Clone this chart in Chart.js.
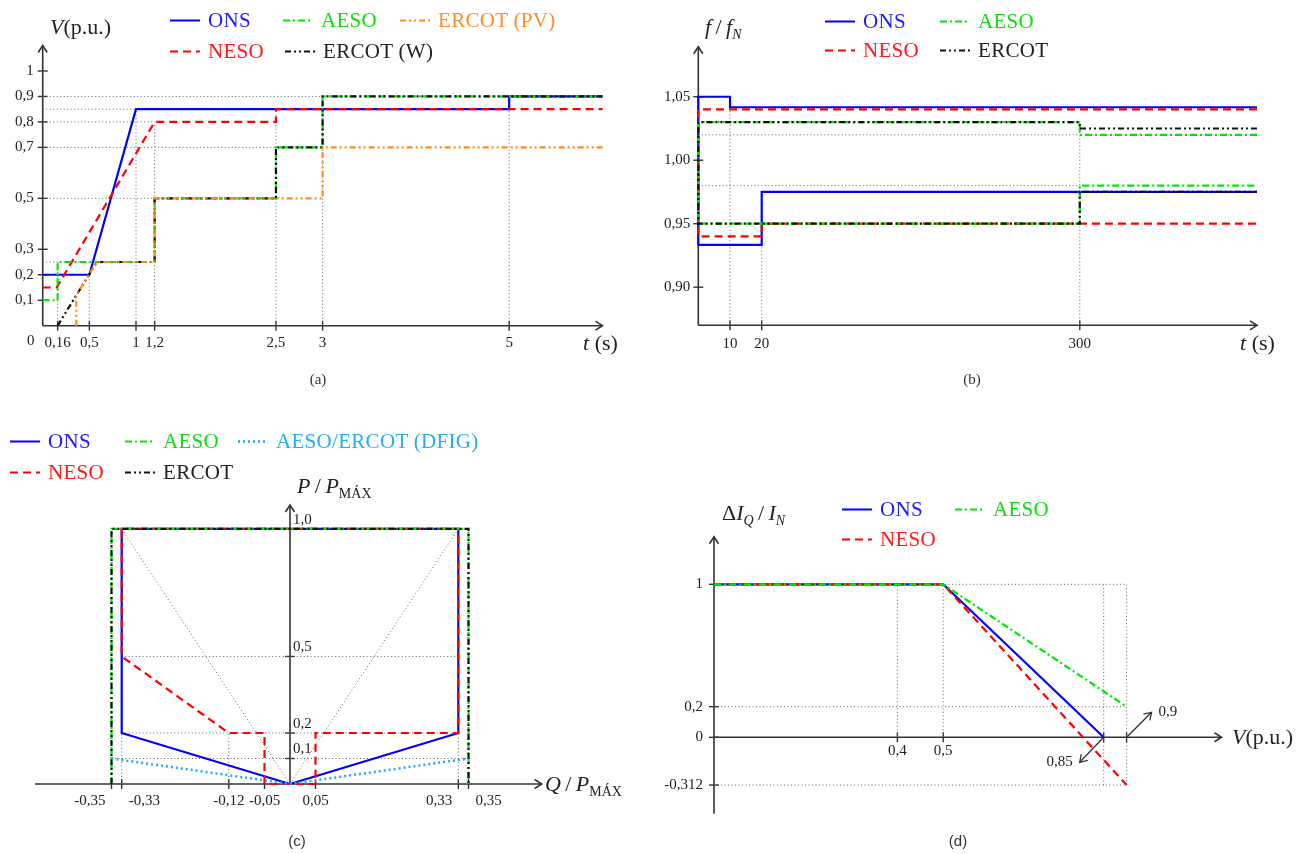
<!DOCTYPE html>
<html>
<head>
<meta charset="UTF-8">
<title>Requisitos de suportabilidade</title>
<script src="https://cdn.jsdelivr.net/npm/chart.js"></script>
<style>
  body { margin: 0; background: #fff; }
  #page { position: relative; width: 1308px; height: 854px; overflow: hidden; font-family: "Liberation Serif", serif; color: #222; }
  .box { position: absolute; }
  .lbl { position: absolute; font-size: 22px; white-space: nowrap; transform: translateY(-50%); line-height: 1; color: #222; }
  .lbl sub { font-size: 14px; }
  .cap { position: absolute; font-size: 15px; transform: translate(-50%, -50%); color: #333; }
  .leg { position: absolute; display: flex; align-items: center; transform: translateY(-50%); font-size: 21px; white-space: nowrap; line-height: 1; letter-spacing: 0.3px; }
  .leg svg { margin-right: 8px; }
</style>
</head>
<body>
<div id="page">
  <div class="lbl" style="left:50px;top:27px"><i>V</i>(p.u.)</div>
  <div class="lbl" style="left:583px;top:343px"><i>t</i> (s)</div>
  <div class="lbl" style="left:705px;top:29px"><i>f</i>&thinsp;/&thinsp;<i>f<sub>N</sub></i></div>
  <div class="lbl" style="left:1240px;top:343px"><i>t</i> (s)</div>
  <div class="lbl" style="left:297px;top:488px"><i>P</i>&thinsp;/&thinsp;<i>P</i><sub>MÁX</sub></div>
  <div class="lbl" style="left:545px;top:786px"><i>Q</i>&thinsp;/&thinsp;<i>P</i><sub>MÁX</sub></div>
  <div class="lbl" style="left:722px;top:515px">Δ<i>I<sub>Q</sub></i>&thinsp;/&thinsp;<i>I<sub>N</sub></i></div>
  <div class="lbl" style="left:1232px;top:737px"><i>V</i>(p.u.)</div>
  <div class="cap" style="left:318px;top:379px">(a)</div>
  <div class="cap" style="left:972px;top:379px">(b)</div>
  <div class="cap" style="left:297px;top:840px;font-family:'Liberation Sans',sans-serif">(c)</div>
  <div class="cap" style="left:958px;top:840px;font-family:'Liberation Sans',sans-serif">(d)</div>
</div>
<script>
// (a) tensão x tempo
const aOnsT = [0, 0.5, 1, 5, 5, 6];
const aOnsV = [0.2, 0.2, 0.85, 0.85, 0.9, 0.9];
const aNesoT = [0, 0.15, 1.2, 2.5, 2.5, 6];
const aNesoV = [0.15, 0.15, 0.8, 0.8, 0.85, 0.85];
const aAesoT = [0, 0.16, 0.16, 1.2, 1.2, 2.5, 2.5, 3, 3, 6];
const aAesoV = [0.1, 0.1, 0.25, 0.25, 0.5, 0.5, 0.7, 0.7, 0.9, 0.9];
const aErcotWT = [0.16, 0.58, 1.2, 1.2, 2.5, 2.5, 3, 3, 6];
const aErcotWV = [0, 0.25, 0.25, 0.5, 0.5, 0.7, 0.7, 0.9, 0.9];
const aErcotPvT = [0.36, 0.36, 0.58, 1.2, 1.2, 3, 3, 6];
const aErcotPvV = [0, 0.12, 0.25, 0.25, 0.5, 0.5, 0.7, 0.7];
const aTicksT = [0.16, 0.5, 1, 1.2, 2.5, 3, 5];
const aTickLabelsT = ['0,16', '0,5', '1', '1,2', '2,5', '3', '5'];
const aTicksV = [0.1, 0.2, 0.3, 0.5, 0.7, 0.8, 0.9, 1];
const aTickLabelsV = ['0,1', '0,2', '0,3', '0,5', '0,7', '0,8', '0,9', '1'];
const aGuides = [
  [[0, 0.9], [3, 0.9]], [[0, 0.85], [1, 0.85]], [[0, 0.8], [1.2, 0.8]],
  [[0, 0.7], [2.5, 0.7]], [[0, 0.5], [1.2, 0.5]], [[0, 0.25], [0.5, 0.25]],
  [[0.16, 0], [0.16, 0.25]], [[0.5, 0], [0.5, 0.2]], [[1, 0], [1, 0.85]],
  [[1.2, 0], [1.2, 0.8]], [[2.5, 0], [2.5, 0.85]], [[3, 0], [3, 0.9]], [[5, 0], [5, 0.9]]
];

// (b) frequência x tempo
const bOnsT = [456, 10, 10, 0, 0, 20, 20, 456];
const bOnsF = [1.0417, 1.0417, 1.05, 1.05, 0.9333, 0.9333, 0.975, 0.975];
const bNesoT = [456, 0, 0, 20, 20, 456];
const bNesoF = [1.04, 1.04, 0.94, 0.94, 0.95, 0.95];
const bAesoT = [456, 300, 300, 0, 0, 300, 300, 456];
const bAesoF = [1.02, 1.02, 1.03, 1.03, 0.95, 0.95, 0.98, 0.98];
const bErcotT = [456, 300, 300, 0, 0, 300, 300, 456];
const bErcotF = [1.025, 1.025, 1.03, 1.03, 0.95, 0.95, 0.975, 0.975];
const bTicksT = [10, 20, 300];
const bTickLabelsT = ['10', '20', '300'];
const bTicksF = [0.90, 0.95, 1.00, 1.05];
const bTickLabelsF = ['0,90', '0,95', '1,00', '1,05'];
const bGuides = [
  [[0, 1.02], [300, 1.02]], [[0, 0.98], [300, 0.98]],
  [[10, 0.87], [10, 1.0417]], [[20, 0.87], [20, 0.9333]], [[300, 0.87], [300, 1.03]]
];

// (c) curva de capabilidade P x Q
const cOnsQ = [0, -0.33, -0.33, 0.33, 0.33, 0];
const cOnsP = [0, 0.2, 1, 1, 0.2, 0];
const cNesoQ = [-0.05, -0.05, -0.12, -0.33, -0.33, 0.33, 0.33, 0.05, 0.05, -0.05];
const cNesoP = [0, 0.2, 0.2, 0.5, 1, 1, 0.2, 0.2, 0, 0];
const cAesoQ = [-0.35, -0.35, 0.35, 0.35];
const cAesoP = [0, 1, 1, 0];
const cErcotQ = [-0.35, -0.35, 0.35, 0.35];
const cErcotP = [0, 1, 1, 0];
const cDfigQ = [-0.35, 0, 0.35];
const cDfigP = [0.1, 0, 0.1];
const cTicksQ = [-0.35, -0.33, -0.12, -0.05, 0.05, 0.33, 0.35];
const cTickLabelsQ = ['-0,35', '-0,33', '-0,12', '-0,05', '0,05', '0,33', '0,35'];
const cTicksP = [0.1, 0.2, 0.5, 1.0];
const cTickLabelsP = ['0,1', '0,2', '0,5', '1,0'];
const cGuides = [
  [[-0.33, 0.5], [0.33, 0.5]], [[-0.33, 0.2], [0.33, 0.2]], [[-0.35, 0.1], [0.35, 0.1]],
  [[0, 0], [-0.33, 1]], [[0, 0], [0.33, 1]],
  [[-0.33, 0], [-0.33, 0.2]], [[-0.12, 0], [-0.12, 0.2]], [[0.33, 0], [0.33, 0.2]]
];

// (d) corrente reativa x tensão
const dOnsV = [0, 0.5, 0.85];
const dOnsI = [1, 1, 0];
const dNesoV = [0, 0.5, 0.9];
const dNesoI = [1, 1, -0.312];
const dAesoV = [0, 0.5, 0.9];
const dAesoI = [1, 1, 0.2];
const dTicksV = [0.4, 0.5, 0.85, 0.9];
const dTickLabelsV = ['0,4', '0,5', '', ''];
const dTicksI = [-0.312, 0, 0.2, 1];
const dTickLabelsI = ['-0,312', '0', '0,2', '1'];
const dGuides = [
  [[0, 1], [0.9, 1]], [[0, 0.2], [0.9, 0.2]], [[0, -0.312], [0.9, -0.312]],
  [[0.4, 0], [0.4, 1]], [[0.5, 0], [0.5, 1]], [[0.85, -0.312], [0.85, 1]], [[0.9, -0.312], [0.9, 1]]
];

const styles = {
  ONS:   {color: '#0000ff', dash: [], text: '#2020ff'},
  NESO:  {color: '#ff0000', dash: [8, 5], text: '#ff1a1a'},
  AESO:  {color: '#00e600', dash: [7, 3, 2, 3], text: '#10dd10'},
  ERCOT: {color: '#111111', dash: [6, 3, 2, 3, 2, 3], text: '#222222'},
  PV:    {color: '#ff8c1a', dash: [6, 3, 2, 3, 2, 3], text: '#ff8c2a'},
  DFIG:  {color: '#1eaaf0', dash: [2, 3], width: 2.5, text: '#25aef0'},
  guide: {color: '#666666', dash: [1, 2.5], width: 1}
};

// escala linear por trechos (eixo t do gráfico b)
class BrokenScale extends Chart.LinearScale {
  _frac(v) {
    const k = this.options.knots;
    for (let i = 1; i < k.length; i++) {
      if (v <= k[i][0] || i === k.length - 1) {
        const [v0, f0] = k[i - 1], [v1, f1] = k[i];
        return f0 + (v - v0) / (v1 - v0) * (f1 - f0);
      }
    }
  }
  getPixelForValue(v) { return this.getPixelForDecimal(this._frac(v)); }
  getValueForPixel(p) {
    const f = this.getDecimalForPixel(p), k = this.options.knots;
    for (let i = 1; i < k.length; i++) {
      if (f <= k[i][1] || i === k.length - 1) {
        const [v0, f0] = k[i - 1], [v1, f1] = k[i];
        return v0 + (f - f0) / (f1 - f0) * (v1 - v0);
      }
    }
  }
}
BrokenScale.id = 'broken';
Chart.register(BrokenScale);

function seg(ctx, x0, y0, x1, y1) {
  ctx.beginPath(); ctx.moveTo(x0, y0); ctx.lineTo(x1, y1); ctx.stroke();
}
function arrowHead(ctx, x, y, ux, uy) {
  const n = Math.hypot(ux, uy); ux /= n; uy /= n;
  const bx = x - ux * 7, by = y - uy * 7, nx = -uy, ny = ux;
  ctx.beginPath();
  ctx.moveTo(bx + nx * 4.5, by + ny * 4.5); ctx.lineTo(x, y); ctx.lineTo(bx - nx * 4.5, by - ny * 4.5);
  ctx.stroke();
}

// eixos no estilo LaTeX: setas, marcas cruzando o eixo e rótulos
const texAxes = {
  id: 'texAxes',
  beforeDatasetsDraw(chart, args, o) {
    const ctx = chart.ctx, xs = chart.scales.x, ys = chart.scales.y;
    const px = v => xs.getPixelForValue(v), py = v => ys.getPixelForValue(v);
    const ay = py(o.xAxisAt), ax = px(o.yAxisAt);
    ctx.save();
    ctx.setLineDash([]);
    ctx.strokeStyle = '#333';
    ctx.lineWidth = 1.6;
    seg(ctx, px(o.xSpan[0]), ay, px(o.xSpan[1]), ay);
    arrowHead(ctx, px(o.xSpan[1]), ay, 1, 0);
    seg(ctx, ax, py(o.ySpan[0]), ax, py(o.ySpan[1]));
    arrowHead(ctx, ax, py(o.ySpan[1]), 0, -1);
    ctx.lineWidth = 1.4;
    o.xTicks.forEach(v => seg(ctx, px(v), ay - 5, px(v), ay + 5));
    o.yTicks.forEach(v => seg(ctx, ax - 5, py(v), ax + 5, py(v)));

    ctx.fillStyle = '#222';
    ctx.font = '15px "Liberation Serif"';
    ctx.textBaseline = 'middle';
    o.xLabels.forEach((t, i) => {
      const al = (o.xAlign && o.xAlign[i]) || 'center';
      ctx.textAlign = al;
      const dx = al === 'left' ? 7 : al === 'right' ? -6 : 0;
      ctx.fillText(t, px(o.xTicks[i]) + dx, ay + o.xLabelGap);
    });
    o.yLabels.forEach((t, i) => {
      if (o.ySide === 'right') {
        ctx.textAlign = 'left';
        ctx.fillText(t, ax + 3, py(o.yTicks[i]) - 9);
      } else {
        ctx.textAlign = 'right';
        ctx.fillText(t, ax - o.yLabelGap, py(o.yTicks[i]));
      }
    });
    if (o.origin) {
      ctx.textAlign = 'center';
      ctx.fillText(o.origin.text, ax + o.origin.dx, ay + o.origin.dy);
    }
    (o.callouts || []).forEach(c => {
      const x0 = px(c.at), x1 = x0 + c.dx, y1 = ay + c.dy;
      ctx.lineWidth = 1.3;
      seg(ctx, x0, ay, x1, y1);
      arrowHead(ctx, x1, y1, c.dx, c.dy);
      ctx.textAlign = c.dx < 0 ? 'right' : 'left';
      ctx.fillText(c.text, x1 + (c.dx < 0 ? -7 : 7), y1);
    });
    ctx.restore();
  }
};

function series(xs, ys, st, order) {
  return {
    data: xs.map((x, i) => ({x: x, y: ys[i]})),
    borderColor: st.color, borderWidth: st.width || 2.2, borderDash: st.dash,
    borderCapStyle: 'butt', borderJoinStyle: 'miter',
    pointRadius: 0, fill: false, tension: 0, clip: false, order: order
  };
}
function guides(list) {
  return list.map(g => series(g.map(p => p[0]), g.map(p => p[1]), styles.guide, 20));
}

const page = document.getElementById('page');
function makeChart(box, area, scales, datasets, axes) {
  const holder = document.createElement('div');
  holder.className = 'box';
  holder.style.left = box.x + 'px';
  holder.style.top = box.y + 'px';
  const cv = document.createElement('canvas');
  cv.width = box.w; cv.height = box.h;
  holder.appendChild(cv);
  page.insertBefore(holder, page.firstChild);
  const pad = {left: area.l - box.x, top: area.t - box.y, right: box.x + box.w - area.r, bottom: box.y + box.h - area.b};
  return new Chart(cv, {
    type: 'line',
    data: {datasets: datasets},
    options: {
      responsive: false, animation: false, events: [],
      layout: {padding: pad},
      plugins: {legend: {display: false}, tooltip: {enabled: false}, texAxes: axes},
      scales: scales
    },
    plugins: [texAxes]
  });
}

function legendItem(x, y, name, st) {
  const d = document.createElement('div');
  d.className = 'leg';
  d.style.left = x + 'px'; d.style.top = y + 'px'; d.style.color = st.text;
  d.innerHTML = '<svg width="30" height="6"><line x1="0" y1="3" x2="30" y2="3" stroke="' + st.color +
    '" stroke-width="' + (st.width || 2.2) + '" stroke-dasharray="' + (st.dash.join(' ') || 'none') + '"/></svg>';
  d.appendChild(document.createTextNode(name));
  page.appendChild(d);
}

// (a)
makeChart({x: 0, y: 0, w: 654, h: 400}, {l: 42.7, t: 45.5, r: 602.5, b: 325.7},
  {x: {type: 'linear', min: 0, max: 6, display: false}, y: {type: 'linear', min: 0, max: 1.1, display: false}},
  [series(aErcotPvT, aErcotPvV, styles.PV, 1), series(aErcotWT, aErcotWV, styles.ERCOT, 2),
   series(aAesoT, aAesoV, styles.AESO, 3), series(aNesoT, aNesoV, styles.NESO, 4),
   series(aOnsT, aOnsV, styles.ONS, 5)].concat(guides(aGuides)),
  {xAxisAt: 0, yAxisAt: 0, xSpan: [0, 6], ySpan: [0, 1.1], xTicks: aTicksT, xLabels: aTickLabelsT,
   yTicks: aTicksV, yLabels: aTickLabelsV, xLabelGap: 17, yLabelGap: 9, origin: {text: '0', dx: -12, dy: 15}});

// (b)
makeChart({x: 654, y: 0, w: 654, h: 400}, {l: 698.3, t: 46.7, r: 1257, b: 325.3},
  {x: {type: 'broken', min: 0, max: 456, knots: [[0, 0], [20, 0.1135], [456, 1]], display: false},
   y: {type: 'linear', min: 0.87, max: 1.0894, display: false}},
  [series(bErcotT, bErcotF, styles.ERCOT, 2), series(bAesoT, bAesoF, styles.AESO, 3),
   series(bNesoT, bNesoF, styles.NESO, 4), series(bOnsT, bOnsF, styles.ONS, 5)].concat(guides(bGuides)),
  {xAxisAt: 0.87, yAxisAt: 0, xSpan: [0, 456], ySpan: [0.87, 1.0894], xTicks: bTicksT, xLabels: bTickLabelsT,
   yTicks: bTicksF, yLabels: bTickLabelsF, xLabelGap: 19, yLabelGap: 8});

// (c)
makeChart({x: 0, y: 400, w: 654, h: 454}, {l: 35, t: 505, r: 541.7, b: 784},
  {x: {type: 'linear', min: -0.5, max: 0.4935, display: false}, y: {type: 'linear', min: 0, max: 1.094, display: false}},
  [series(cDfigQ, cDfigP, styles.DFIG, 1), series(cErcotQ, cErcotP, styles.ERCOT, 2),
   series(cAesoQ, cAesoP, styles.AESO, 3), series(cNesoQ, cNesoP, styles.NESO, 4),
   series(cOnsQ, cOnsP, styles.ONS, 5)].concat(guides(cGuides)),
  {xAxisAt: 0, yAxisAt: 0, xSpan: [-0.5, 0.4935], ySpan: [0, 1.094], xTicks: cTicksQ, xLabels: cTickLabelsQ,
   xAlign: ['right', 'left', 'center', 'center', 'center', 'right', 'left'],
   yTicks: cTicksP, yLabels: cTickLabelsP, xLabelGap: 17, ySide: 'right'});

// (d)
makeChart({x: 654, y: 400, w: 654, h: 454}, {l: 714, t: 536.7, r: 1221.5, b: 813.8},
  {x: {type: 'linear', min: 0, max: 1.107, display: false}, y: {type: 'linear', min: -0.5, max: 1.311, display: false}},
  [series(dAesoV, dAesoI, styles.AESO, 3), series(dNesoV, dNesoI, styles.NESO, 4),
   series(dOnsV, dOnsI, styles.ONS, 5)].concat(guides(dGuides)),
  {xAxisAt: 0, yAxisAt: 0, xSpan: [0, 1.107], ySpan: [-0.5, 1.311], xTicks: dTicksV, xLabels: dTickLabelsV,
   yTicks: dTicksI, yLabels: dTickLabelsI, xLabelGap: 14, yLabelGap: 11,
   callouts: [{at: 0.85, dx: -24, dy: 25, text: '0,85'}, {at: 0.9, dx: 25, dy: -25, text: '0,9'}]});

// legendas
legendItem(170, 20, 'ONS', styles.ONS);
legendItem(283, 20, 'AESO', styles.AESO);
legendItem(400, 20, 'ERCOT (PV)', styles.PV);
legendItem(170, 51, 'NESO', styles.NESO);
legendItem(285, 51, 'ERCOT (W)', styles.ERCOT);

legendItem(825, 21, 'ONS', styles.ONS);
legendItem(940, 21, 'AESO', styles.AESO);
legendItem(825, 50, 'NESO', styles.NESO);
legendItem(940, 50, 'ERCOT', styles.ERCOT);

legendItem(10, 441, 'ONS', styles.ONS);
legendItem(125, 441, 'AESO', styles.AESO);
legendItem(238, 441, 'AESO/ERCOT (DFIG)', styles.DFIG);
legendItem(10, 472, 'NESO', styles.NESO);
legendItem(125, 472, 'ERCOT', styles.ERCOT);

legendItem(842, 509, 'ONS', styles.ONS);
legendItem(955, 509, 'AESO', styles.AESO);
legendItem(842, 539, 'NESO', styles.NESO);
</script>
</body>
</html>
